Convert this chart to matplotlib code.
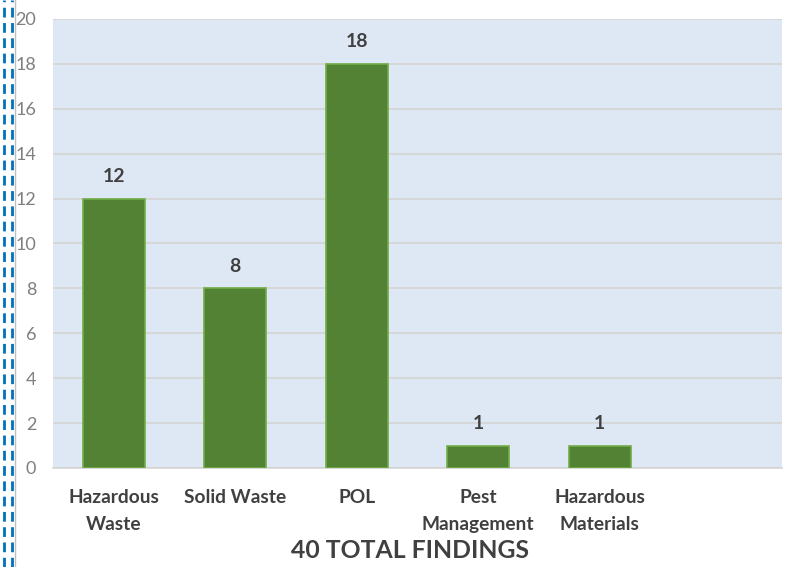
import matplotlib.pyplot as plt
import matplotlib.lines as mlines
import numpy as np

# data
categories = ['Hazardous\nWaste', 'Solid Waste', 'POL', 'Pest\nManagement', 'Hazardous\nMaterials', '']
findings = [12, 8, 18, 1, 1, None]
title = '40 TOTAL FINDINGS'

plt.rcParams['font.family'] = ['Lato', 'DejaVu Sans']

fig = plt.figure(figsize=(7.88, 5.67), dpi=100)
ax = fig.add_axes([53 / 788, 1 - 468 / 567, 729 / 788, 449 / 567])
ax.set_facecolor('#DEE8F4')

x = np.arange(len(categories))
for xi, v in zip(x, findings):
    if v is None:
        continue
    ax.bar(xi, v, width=0.51, color='#548235', edgecolor='#70AD47', linewidth=1.2, zorder=3)
    # data label
    ax.text(xi, v + 0.6, str(v), ha='center', va='bottom', fontsize=14,
            fontweight='bold', color='#404040')

ax.set_xlim(-0.5, len(categories) - 0.5)
ax.set_ylim(0, 20)
ax.set_yticks(np.arange(0, 21, 2))
ax.set_xticks(x)
ax.set_xticklabels(categories, fontsize=13.8, fontweight='bold', color='#404040', linespacing=1.7)
ax.tick_params(axis='x', length=0, pad=15)
ax.tick_params(axis='y', length=0, pad=12, labelsize=13, labelcolor='#7F7F7F')
ax.grid(axis='y', color='#D4D4D4', linewidth=1.2, zorder=0)
for s in ['top', 'right', 'left']:
    ax.spines[s].set_visible(False)
ax.spines['bottom'].set_color('#D4D4D4')
ax.spines['bottom'].set_linewidth(1.2)

fig.text(410 / 788, 1 - 550 / 567, title, ha='center', va='center', fontsize=17.8,
         fontweight='bold', color='#404040')

# decorative dashed border on the left
for xp in [4, 12]:
    fig.add_artist(mlines.Line2D([xp / 788, xp / 788], [0, 1], color='#0070C0',
                                 linestyle=(0, (3.5, 2)), linewidth=2))
fig.add_artist(mlines.Line2D([14.5 / 788, 14.5 / 788], [0, 1], color='#BFBFBF', linewidth=1))

fig.savefig('out.png', dpi=100)
